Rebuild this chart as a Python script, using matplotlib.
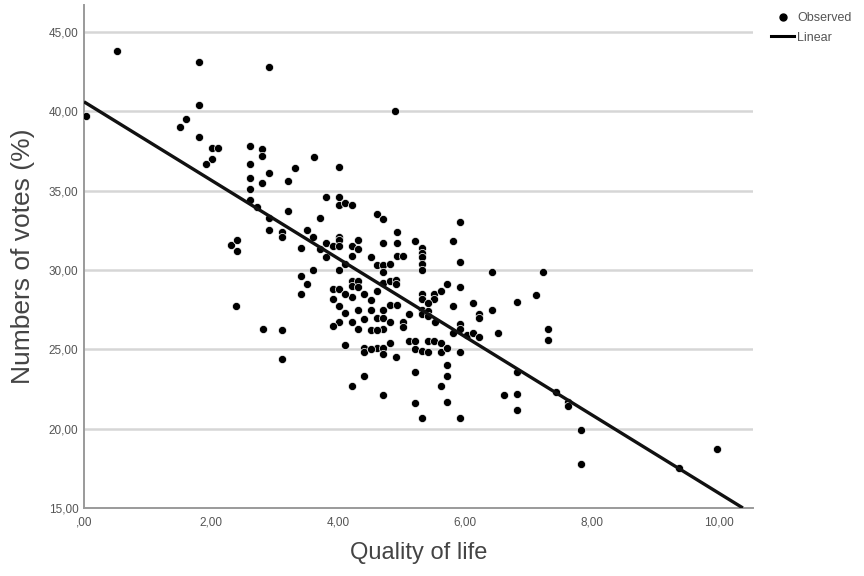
import numpy as np
import matplotlib
matplotlib.use("Agg")
from matplotlib import pyplot as plt
from matplotlib.lines import Line2D
from matplotlib.ticker import FuncFormatter

plt.rcParams["font.family"] = ["Liberation Sans", "DejaVu Sans"]

# Observed points (quality of life, % of votes)
quality = [
    0.03, 0.52, 1.81, 2.91, 1.81, 1.61, 1.51, 1.81, 2.02, 2.11, 2.02, 1.92, 2.61, 2.80,
    2.80, 2.61, 2.91, 2.61, 2.80, 2.61, 3.21, 3.32, 3.62, 4.02, 3.81, 4.02, 4.90,
    2.61, 2.72, 2.91, 2.91, 3.21, 3.12, 3.12, 2.31, 2.41, 2.41, 3.42, 3.51, 3.61, 3.72,
    4.02, 4.11, 4.22, 3.81, 3.92, 4.02, 4.02, 4.02, 3.81, 3.72, 4.22, 4.22, 4.32, 3.61,
    4.02, 3.42, 3.51, 3.42, 3.92, 4.02, 4.22, 4.22, 4.22, 4.32, 4.32,
    4.61, 4.71, 4.32, 4.11, 4.93, 4.93, 4.71, 5.21, 5.32, 5.32, 5.32, 5.32, 5.32, 5.81,
    5.92, 5.92, 6.43, 4.52, 4.61, 4.71, 4.82, 4.93, 5.02, 4.71,
    3.92, 4.02, 4.11, 4.41, 4.52, 4.52, 4.61, 4.71, 4.82, 4.91, 4.91,
    4.61, 4.71, 4.82, 4.93, 4.82, 4.71, 4.52, 4.61, 4.41, 4.32, 4.22, 4.11, 4.02, 3.92,
    4.11, 4.41, 4.61, 4.71, 4.82, 4.71,
    5.12, 5.32, 5.32, 5.32, 5.32, 5.42, 5.42, 5.53, 5.51, 5.62, 5.72, 5.81, 5.92, 6.13,
    6.22, 6.22, 6.43, 5.92, 5.92, 5.81, 6.03, 6.13, 6.22, 6.52, 5.51, 5.42,
    2.82, 3.12, 3.12, 4.32, 5.02, 5.02, 4.41, 4.52, 4.71, 4.91, 5.12, 5.21, 5.21, 5.32,
    5.42, 5.42, 5.51, 5.62, 5.62, 5.72, 5.92, 5.21, 5.72, 5.72, 5.62, 4.41, 4.22, 4.71,
    5.21, 5.72, 5.32, 5.92, 2.40,
    7.23, 7.12, 6.82, 7.31, 7.31, 6.82, 6.61, 6.82, 7.43, 6.82, 7.62, 7.62, 7.83, 7.83,
    9.97, 9.37,
]
votes = [
    39.7, 43.8, 43.1, 42.8, 40.4, 39.5, 39.0, 38.4, 37.7, 37.7, 37.0, 36.7, 37.8, 37.6,
    37.2, 36.7, 36.1, 35.8, 35.5, 35.1, 35.6, 36.4, 37.1, 36.5, 34.6, 34.6, 40.0,
    34.4, 34.0, 33.3, 32.5, 33.7, 32.4, 32.1, 31.6, 31.9, 31.2, 31.4, 32.5, 32.1, 33.3,
    34.1, 34.2, 34.1, 31.7, 31.5, 32.1, 31.9, 31.5, 30.8, 31.3, 31.5, 30.9, 31.9, 30.0,
    30.0, 29.6, 29.1, 28.5, 28.8, 28.8, 29.3, 29.0, 28.3, 29.3, 28.9,
    33.5, 33.2, 31.3, 30.4, 32.4, 31.7, 31.7, 31.8, 31.4, 31.1, 30.8, 30.4, 30.0, 31.8,
    33.0, 30.5, 29.9, 30.8, 30.3, 30.3, 30.4, 30.9, 30.9, 29.9,
    28.2, 27.7, 28.5, 28.5, 28.1, 27.5, 28.7, 29.2, 29.3, 29.4, 29.1,
    27.0, 27.0, 27.8, 27.8, 26.7, 26.3, 26.2, 26.2, 26.9, 27.5, 26.7, 27.3, 26.7, 26.5,
    25.3, 25.1, 25.1, 25.1, 25.4, 27.5,
    27.2, 28.5, 28.2, 27.5, 27.2, 27.4, 27.1, 26.7, 28.5, 28.7, 29.1, 27.7, 28.9, 27.9,
    27.2, 27.0, 27.5, 26.6, 26.3, 26.0, 25.9, 26.0, 25.8, 26.0, 28.2, 27.9,
    26.3, 26.2, 24.4, 26.3, 26.7, 26.4, 24.8, 25.0, 24.7, 24.5, 25.5, 25.5, 25.0, 24.9,
    24.8, 25.5, 25.5, 25.4, 24.8, 25.1, 24.8, 23.6, 24.0, 23.3, 22.7, 23.3, 22.7, 22.1,
    21.6, 21.7, 20.7, 20.7, 27.7,
    29.9, 28.4, 28.0, 26.3, 25.6, 23.6, 22.1, 22.2, 22.3, 21.2, 21.7, 21.4, 19.9, 17.8,
    18.7, 17.5,
]

# Linear fit as drawn in the reference
fit_intercept = 40.6
fit_slope = -2.466
fit_x_end = 10.38

x_ticks = [0, 2, 4, 6, 8, 10]
y_ticks = [15, 20, 25, 30, 35, 40, 45]


def comma_fmt(v, pos=None):
    s = f"{v:.2f}".replace(".", ",")
    if s.startswith("0,"):
        s = s[1:]
    return s


fig = plt.figure(figsize=(8.64, 5.76), dpi=100)
ax = fig.add_axes([84 / 864, 1 - 508 / 576, (753 - 84) / 864, 503 / 576])

for y in y_ticks[1:]:
    ax.axhline(y, color="#d6d6d6", lw=1.8, zorder=0)

ax.scatter(quality, votes, s=34, color="black", edgecolors="white", linewidths=0.5, zorder=3)

line_x = np.array([0, fit_x_end])
ax.plot(line_x, fit_intercept + fit_slope * line_x, color="#111111", lw=2.4, zorder=4,
        solid_capstyle="butt")

ax.set_xlim(0, 10.54)
ax.set_ylim(15, 46.7)
ax.set_xticks(x_ticks)
ax.set_yticks(y_ticks)
ax.xaxis.set_major_formatter(FuncFormatter(comma_fmt))
ax.yaxis.set_major_formatter(FuncFormatter(comma_fmt))
ax.tick_params(length=0, labelsize=8.5, labelcolor="#555555", pad=4)
ax.tick_params(axis="x", pad=6)

for side in ["top", "right"]:
    ax.spines[side].set_visible(False)
for side in ["left", "bottom"]:
    ax.spines[side].set_color("#9a9a9a")
    ax.spines[side].set_linewidth(1.4)

ax.set_xlabel("Quality of life", fontsize=17, color="#444444", labelpad=10)
ax.set_ylabel("Numbers of votes (%)", fontsize=19, color="#444444", labelpad=10)

handles = [
    Line2D([], [], marker="o", color="black", linestyle="none", markersize=5),
    Line2D([], [], color="black", lw=2.2),
]
fig.legend(handles, ["Observed", "Linear"], loc="upper left",
           bbox_to_anchor=(760 / 864, 1 - 1 / 576), frameon=False, fontsize=9,
           labelcolor="#555555", handlelength=1.8, handletextpad=0.3, labelspacing=0.6)

fig.savefig("out.png", dpi=100)
